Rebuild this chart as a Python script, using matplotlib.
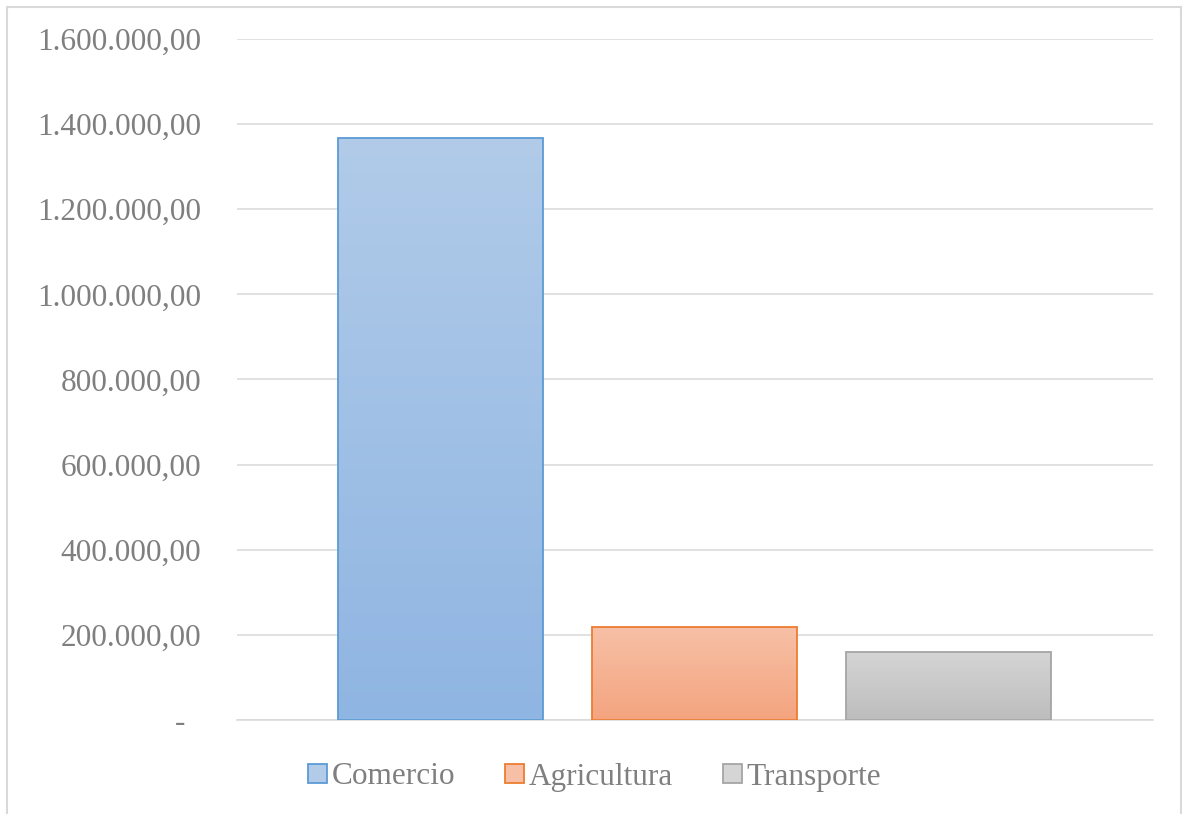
import matplotlib.pyplot as plt
import matplotlib.colors as mcolors
from matplotlib.patches import Rectangle
import numpy as np

# datos
series = ['Comercio', 'Agricultura', 'Transporte']
valores = [1367000, 218500, 160000]
ticks = [0, 200000, 400000, 600000, 800000, 1000000, 1200000, 1400000, 1600000]

# colores estilo Excel (arriba, abajo, borde)
grad_top = ['#b1cbe9', '#f7c0a6', '#d5d5d5']
grad_bot = ['#8fb5e2', '#f4a47f', '#bdbdbd']
bordes = ['#5b9bd5', '#ed7d31', '#a5a5a5']


def fmt(v):
    """formato contable: 1.600.000,00"""
    if v == 0:
        return '-  '
    s = f"{v:,.2f}"
    return s.replace(',', 'X').replace('.', ',').replace('X', '.')


plt.rcParams['font.family'] = ['Liberation Serif', 'DejaVu Serif']

fig = plt.figure(figsize=(11.82, 8.14), dpi=100)
ax = fig.add_axes([237 / 1182, 1 - 720 / 814, (1153 - 237) / 1182, (720 - 39) / 814])

x = np.arange(len(series))
bars = ax.bar(x, valores, width=0.807, color='none', edgecolor=bordes,
              linewidth=1.3, zorder=3)

# relleno degradado dentro de cada barra
for b, c1, c2 in zip(bars, grad_top, grad_bot):
    cmap = mcolors.LinearSegmentedColormap.from_list('g', [c2, c1])
    grad = np.linspace(0, 1, 256).reshape(-1, 1)
    x0, y0 = b.get_x(), b.get_y()
    im = ax.imshow(grad, cmap=cmap, aspect='auto', origin='lower',
                   extent=[x0, x0 + b.get_width(), y0, y0 + b.get_height()],
                   zorder=2)
    im.set_clip_path(b)

ax.set_xlim(-0.801, 2.805)
ax.set_ylim(0, 1600000)
ax.set_yticks(ticks)
ax.set_yticklabels([fmt(t) for t in ticks], fontsize=22.5, color='#7f7f7f')
ax.tick_params(axis='y', length=0, pad=26)
ax.set_xticks([])
ax.grid(axis='y', color='#d9d9d9', linewidth=1.1, zorder=0)
for s in ['top', 'right', 'left']:
    ax.spines[s].set_visible(False)
ax.spines['bottom'].set_color('#d9d9d9')
ax.spines['bottom'].set_linewidth(1.1)

# leyenda
handles = [Rectangle((0, 0), 1, 1, facecolor=c1, edgecolor=e, linewidth=1.3)
           for c1, e in zip(grad_top, bordes)]
fig.legend(handles, series, loc='center', bbox_to_anchor=(0.503, 1 - 777 / 814),
           ncol=3, frameon=False, fontsize=22.5, labelcolor='#7f7f7f',
           handlelength=0.6, handleheight=0.6, handletextpad=0.15,
           columnspacing=1.6)

# borde del área del gráfico
fig.patches.append(Rectangle((7 / 1182, -0.02), (1181 - 7) / 1182, 1 - 7 / 814 + 0.02,
                             transform=fig.transFigure, fill=False,
                             edgecolor='#d9d9d9', linewidth=1.5))

fig.savefig('out.png', dpi=100)
